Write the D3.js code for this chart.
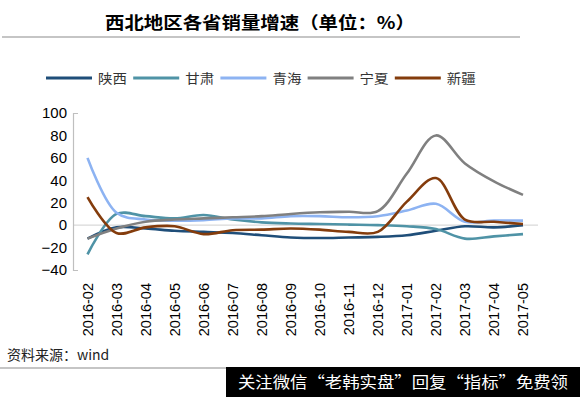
<!DOCTYPE html>
<html>
<head>
<meta charset="utf-8">
<script src="https://cdn.jsdelivr.net/npm/d3@7/dist/d3.min.js"></script>
<style>
  body { margin: 0; background: #fff; }
  svg { display: block; }
  .tick text, .xlab { font-family: "Liberation Sans", Arial, sans-serif; fill: #000; }
  .cjk { font-family: "Noto Sans CJK SC", sans-serif; }
</style>
</head>
<body>
<svg id="chart" width="580" height="397"></svg>
<script>
let months = ['2016-02', '2016-03', '2016-04', '2016-05', '2016-06', '2016-07', '2016-08', '2016-09',
  '2016-10', '2016-11', '2016-12', '2017-01', '2017-02', '2017-03', '2017-04', '2017-05'];

let shaanxi = [-12, -2, -3, -5, -6, -7, -9, -11, -11.5, -11, -10.5, -9, -5, -1, -2, 0];
let gansu = [-26, 10, 8, 6, 9, 5, 2.5, 1.5, 1, 0.5, 0, -1, -3.5, -12, -10, -8];
let qinghai = [60, 11, 5, 4, 4.5, 6, 6, 8, 8, 7, 8, 13, 19, 3, 4, 4];
let ningxia = [-12, -3, 3, 5, 6, 7, 8, 10, 11.5, 12, 12.5, 46, 80, 55, 39, 27];
let xinjiang = [25, -7, -2, -1, -8, -4.5, -4, -3, -4, -6, -6, 21, 42, 5, 3, 1];

let yTicks = [-40, -20, 0, 20, 40, 60, 80, 100];

let series = [
  { name: '陕西', values: shaanxi, color: '#1f4e79' },
  { name: '甘肃', values: gansu, color: '#4f93a6' },
  { name: '青海', values: qinghai, color: '#8db3f2' },
  { name: '宁夏', values: ningxia, color: '#808080' },
  { name: '新疆', values: xinjiang, color: '#843c0c' }
];

let svg = d3.select('#chart');

// Title and rule under it
svg.append('text')
  .attr('class', 'cjk')
  .attr('x', 260).attr('y', 29)
  .attr('text-anchor', 'middle')
  .attr('font-size', 17).attr('font-weight', 'bold')
  .attr('textLength', 310).attr('lengthAdjust', 'spacingAndGlyphs')
  .text('西北地区各省销量增速（单位：%）');
svg.append('line')
  .attr('x1', 2).attr('x2', 520).attr('y1', 37).attr('y2', 37)
  .attr('stroke', '#8c8c8c').attr('stroke-width', 1.2);

// Legend
let legend = svg.append('g').attr('transform', 'translate(46,78)');
let legendStep = 87.2;
let legendItems = legend.selectAll('g')
  .data(series)
  .join('g')
  .attr('transform', (d, i) => 'translate(' + (i * legendStep) + ',0)');
legendItems.append('line')
  .attr('x1', 0).attr('x2', 46)
  .attr('stroke', d => d.color).attr('stroke-width', 3);
legendItems.append('text')
  .attr('class', 'cjk')
  .attr('x', 52).attr('dy', '0.35em')
  .attr('font-size', 13).attr('fill', '#333')
  .attr('textLength', 29).attr('lengthAdjust', 'spacingAndGlyphs')
  .text(d => d.name);

// Scales
let x = d3.scalePoint().domain(months).range([87.5, 523]);
let y = d3.scaleLinear().domain([-40, 100]).range([270, 113]);

// Zero line
svg.append('line')
  .attr('x1', 73).attr('x2', 538)
  .attr('y1', y(0)).attr('y2', y(0))
  .attr('stroke', '#d9d9d9').attr('stroke-width', 1.2);

// Y axis: bracket-shaped domain, no inner ticks
let yAxis = svg.append('g')
  .attr('transform', 'translate(73,0)')
  .call(d3.axisLeft(y).tickValues(yTicks).tickSizeInner(0).tickSizeOuter(-5).tickPadding(6));
yAxis.select('.domain').attr('stroke', '#bfbfbf').attr('stroke-width', 1.2);
yAxis.selectAll('.tick line').remove();
yAxis.selectAll('.tick text').attr('font-size', 15).attr('fill', '#000');
yAxis.attr('font-family', null).attr('font-size', null);

// X labels (rotated)
svg.append('g')
  .selectAll('text')
  .data(months)
  .join('text')
  .attr('class', 'xlab')
  .attr('transform', d => 'translate(' + x(d) + ',283) rotate(-90)')
  .attr('text-anchor', 'end')
  .attr('dy', '0.35em')
  .attr('font-size', 14.5)
  .text(d => d);

// Lines
let line = d3.line()
  .x((d, i) => x(months[i]))
  .y(d => y(d))
  .curve(d3.curveCatmullRom.alpha(0.5));

svg.append('g')
  .selectAll('path')
  .data(series)
  .join('path')
  .attr('fill', 'none')
  .attr('stroke', d => d.color)
  .attr('stroke-width', 2.6)
  .attr('stroke-linejoin', 'round')
  .attr('d', d => line(d.values));

// Source note and rule
svg.append('text')
  .attr('class', 'cjk')
  .attr('x', 7).attr('y', 360)
  .attr('font-size', 14).attr('fill', '#222')
  .text('资料来源：wind');
svg.append('line')
  .attr('x1', 0).attr('x2', 580).attr('y1', 368).attr('y2', 368)
  .attr('stroke', '#8c8c8c').attr('stroke-width', 1.2);

// Watermark banner
svg.append('rect')
  .attr('x', 226).attr('y', 367).attr('width', 354).attr('height', 30)
  .attr('fill', '#000');
svg.append('text')
  .attr('class', 'cjk')
  .attr('x', 403).attr('y', 388)
  .attr('text-anchor', 'middle')
  .attr('font-size', 16).attr('fill', '#fff')
  .attr('textLength', 330).attr('lengthAdjust', 'spacingAndGlyphs')
  .text('关注微信“老韩实盘”回复“指标”免费领');
</script>
</body>
</html>
